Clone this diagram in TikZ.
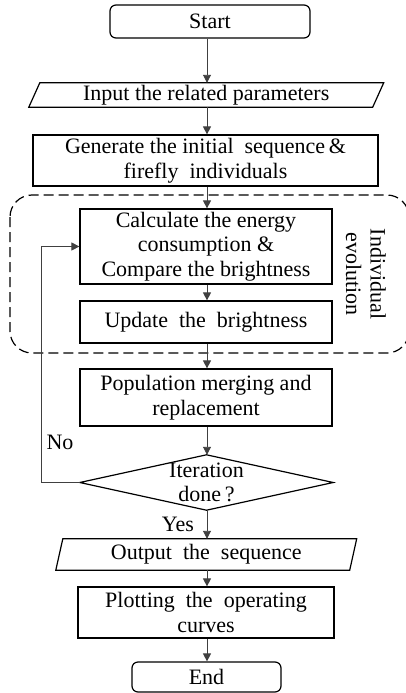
\documentclass[tikz,border=0pt]{standalone}
\usepackage{fontspec}
\setmainfont{Liberation Serif}
\usetikzlibrary{arrows.meta}
\begin{document}
\begin{tikzpicture}[x=1pt,y=-1pt,
  every node/.style={font=\fontsize{22}{24.5}\selectfont, inner sep=0pt, align=center},
  boxnode/.style={draw=black, line width=1.2pt, rectangle},
  roundnode/.style={draw=black, line width=1.2pt, rectangle, rounded corners=6pt},
  plainnode/.style={rectangle},
  conn/.style={draw=black!75, line width=0.9pt, -{Triangle[length=8pt,width=8pt]}},
  shapeline/.style={draw=black, line width=1.2pt},
  lbl/.style={font=\fontsize{22}{24.5}\selectfont}
]
\useasboundingbox (0,0) rectangle (406,693);

% dashed region
\draw[black, line width=1.2pt, dash pattern=on 10pt off 5pt, rounded corners=22pt] (10,195) rectangle (409,353);

\node[roundnode, minimum width=200pt, minimum height=33pt] (start) at (210,21.5) {Start};

\node[plainnode, minimum width=343.5pt, minimum height=24pt] (inp) at (206.25,95) {Input the related parameters};
\draw[shapeline] ([xshift=5.5pt]inp.north west) -- ([xshift=5.5pt]inp.north east) -- ([xshift=-5.5pt]inp.south east) -- ([xshift=-5.5pt]inp.south west) -- cycle;

\node[boxnode, minimum width=345pt, minimum height=51pt] (gen) at (205.5,160.5) {Generate the initial\ \ sequence\,\&\\firefly\ \ individuals};

\node[boxnode, minimum width=252pt, minimum height=75pt] (calc) at (206,246.5) {Calculate the energy\\consumption \&\\Compare the brightness};

\node[boxnode, minimum width=252pt, minimum height=42pt] (upd) at (206,322) {Update\ \ the\ \ brightness};

\node[boxnode, minimum width=252pt, minimum height=57pt] (pop) at (206,397.5) {Population merging and\\replacement};

\node[plainnode, minimum width=253pt, minimum height=55pt] (dia) at (206.5,482.5) {Iteration\\done\,?};
\draw[shapeline] (dia.north) -- (dia.east) -- (dia.south) -- (dia.west) -- cycle;

\node[plainnode, minimum width=293.5pt, minimum height=31pt] (out) at (206.25,554.5) {Output\ \ the\ \ sequence};
\draw[shapeline] ([xshift=3.5pt]out.north west) -- ([xshift=3.5pt]out.north east) -- ([xshift=-3.5pt]out.south east) -- ([xshift=-3.5pt]out.south west) -- cycle;

\node[boxnode, minimum width=256pt, minimum height=51pt] (plot) at (206,612.5) {Plotting\ \ the\ \ operating\\curves};

\node[roundnode, minimum width=149pt, minimum height=30pt] (end) at (206.5,677) {End};

\node[rotate=-90, lbl] (evo) at (366,274) {Individual\\evolution};

\node[lbl] (no) at (60,442) {No};
\node[lbl] (yes) at (178,524) {Yes};

\coordinate (loopc) at (41,482.5);

\draw[conn] (start.south -| 207,0) -- (inp.north -| 207,0);
\draw[conn] (inp.south -| 207,0) -- (gen.north -| 207,0);
\draw[conn] (gen.south -| 207,0) -- (calc.north -| 207,0);
\draw[conn] (calc.south -| 207,0) -- (upd.north -| 207,0);
\draw[conn] (upd.south -| 207,0) -- (pop.north -| 207,0);
\draw[conn] (pop.south -| 207,0) -- (dia.north -| 207,0);
\draw[conn] (dia.south -| 207,0) -- (out.north -| 207,0);
\draw[conn] (out.south -| 207,0) -- (plot.north -| 207,0);
\draw[conn] (plot.south -| 207,0) -- (end.north -| 207,0);
\draw[conn] (dia.west) -- (loopc) |- (calc.west);
\end{tikzpicture}
\end{document}
